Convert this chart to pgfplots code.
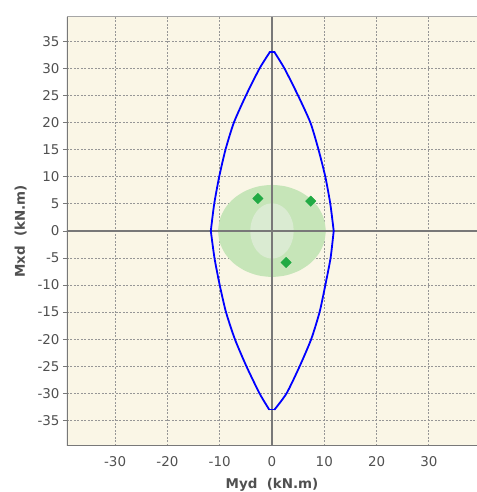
\documentclass[border=0pt]{standalone}
\usepackage{fontspec}
\setmainfont{DejaVu Sans}
\usepackage{pgfplots}
\pgfplotsset{compat=1.18}
\definecolor{bgc}{RGB}{250,246,230}
\definecolor{gridc}{RGB}{150,150,150}
\definecolor{axc}{RGB}{120,120,120}
\definecolor{outerE}{RGB}{198,229,184}
\definecolor{innerE}{RGB}{218,235,210}
\definecolor{mk}{RGB}{34,170,68}
\definecolor{lab}{RGB}{80,80,80}
\begin{document}
\begin{tikzpicture}
\begin{axis}[
  scale only axis,
  width=410bp, height=429bp,
  xmin=-39.2, xmax=39.2, ymin=-39.7, ymax=39.6,
  xtick={-30,-20,-10,0,10,20,30},
  ytick={-35,-30,-25,-20,-15,-10,-5,0,5,10,15,20,25,30,35},
  axis background/.style={fill=bgc},
  axis line style={draw=none},
  grid=major,
  grid style={gridc, dash pattern=on 2bp off 1.5bp, line width=0.8bp},
  tick align=outside,
  xtick style={draw=none},
  ytick style={draw=axc, line width=0.8bp},
  major tick length=4bp,
  /pgf/number format/assume math mode=true,
  tick label style={font=\fontsize{13.5}{16}\selectfont, text=lab},
  xticklabel style={yshift=-3bp},
  label style={font=\fontsize{13.5}{16}\selectfont\bfseries, text=lab},
  xlabel={Myd~~(kN.m)},
  ylabel={Mxd~~(kN.m)},
  xlabel style={yshift=-5bp},
  ylabel style={yshift=4bp},
  clip=true,
]
% outer green ellipse
\addplot[fill=outerE, draw=none, smooth] coordinates {
(10.3,0) (9.95,2.2) (8.92,4.25) (7.28,6.01) (5.15,7.36) (2.67,8.21) (0,8.5)
(-2.67,8.21) (-5.15,7.36) (-7.28,6.01) (-8.92,4.25) (-9.95,2.2) (-10.3,0)
(-9.95,-2.2) (-8.92,-4.25) (-7.28,-6.01) (-5.15,-7.36) (-2.67,-8.21) (0,-8.5)
(2.67,-8.21) (5.15,-7.36) (7.28,-6.01) (8.92,-4.25) (9.95,-2.2) (10.3,0)
} -- cycle;
% inner ellipse
\addplot[fill=innerE, draw=none, smooth] coordinates {
(4.15,0) (4.01,1.32) (3.59,2.55) (2.93,3.61) (2.08,4.42) (1.07,4.93) (0,5.1)
(-1.07,4.93) (-2.08,4.42) (-2.93,3.61) (-3.59,2.55) (-4.01,1.32) (-4.15,0)
(-4.01,-1.32) (-3.59,-2.55) (-2.93,-3.61) (-2.08,-4.42) (-1.07,-4.93) (0,-5.1)
(1.07,-4.93) (2.08,-4.42) (2.93,-3.61) (3.59,-2.55) (4.01,-1.32) (4.15,0)
} -- cycle;
% zero axes
\addplot[axc, line width=1.3bp] coordinates {(0,-39.7) (0,39.6)};
\addplot[axc, line width=1.3bp] coordinates {(-39.2,0) (39.2,0)};
% interaction curve (four smooth arcs)
\pgfplotsset{every axis plot/.append style={line join=round, line cap=round}}
\addplot[blue, line width=1.8bp, smooth, tension=0.4] coordinates {
(-0.45,33.0) (-2.4,30) (-5.0,25) (-7.3,20) (-8.9,15) (-10.1,10) (-11.05,5) (-11.7,0)
};
\addplot[blue, line width=1.8bp, smooth, tension=0.4] coordinates {
(-11.7,0) (-11.0,-5) (-10.0,-10) (-8.8,-15) (-7.1,-20) (-4.9,-25) (-2.4,-30) (-0.55,-33.0)
};
\addplot[blue, line width=1.8bp, smooth, tension=0.4] coordinates {
(0.5,-33.0) (2.8,-30) (5.3,-25) (7.5,-20) (9.1,-15) (10.2,-10) (11.2,-5) (11.8,0)
};
\addplot[blue, line width=1.8bp, smooth, tension=0.4] coordinates {
(11.8,0) (11.15,5) (10.2,10) (8.9,15) (7.35,20) (5.0,25) (2.4,30) (0.5,33.0)
};
\addplot[blue, line width=1.8bp] coordinates {(-0.45,33.0) (0.5,33.0)};
\addplot[blue, line width=1.8bp] coordinates {(-0.55,-33.0) (0.5,-33.0)};
% points
\addplot[only marks, mark=square*, mark size=3.7bp, mark options={rotate=45, fill=mk, draw=mk}] coordinates {
(-2.7,6.0) (7.4,5.5) (2.7,-5.85)
};
% borders
\draw[axc, line width=1.5bp] (rel axis cs:0,1) -- (rel axis cs:0,0) -- (rel axis cs:1,0);
\draw[gray!70, line width=1bp] (rel axis cs:0,1) -- (rel axis cs:1,1);
\end{axis}
\pgfresetboundingbox
\path ([xshift=-67bp,yshift=-46.3bp]current axis.south west) rectangle ([yshift=16.7bp]current axis.north east);
\end{tikzpicture}
\end{document}
